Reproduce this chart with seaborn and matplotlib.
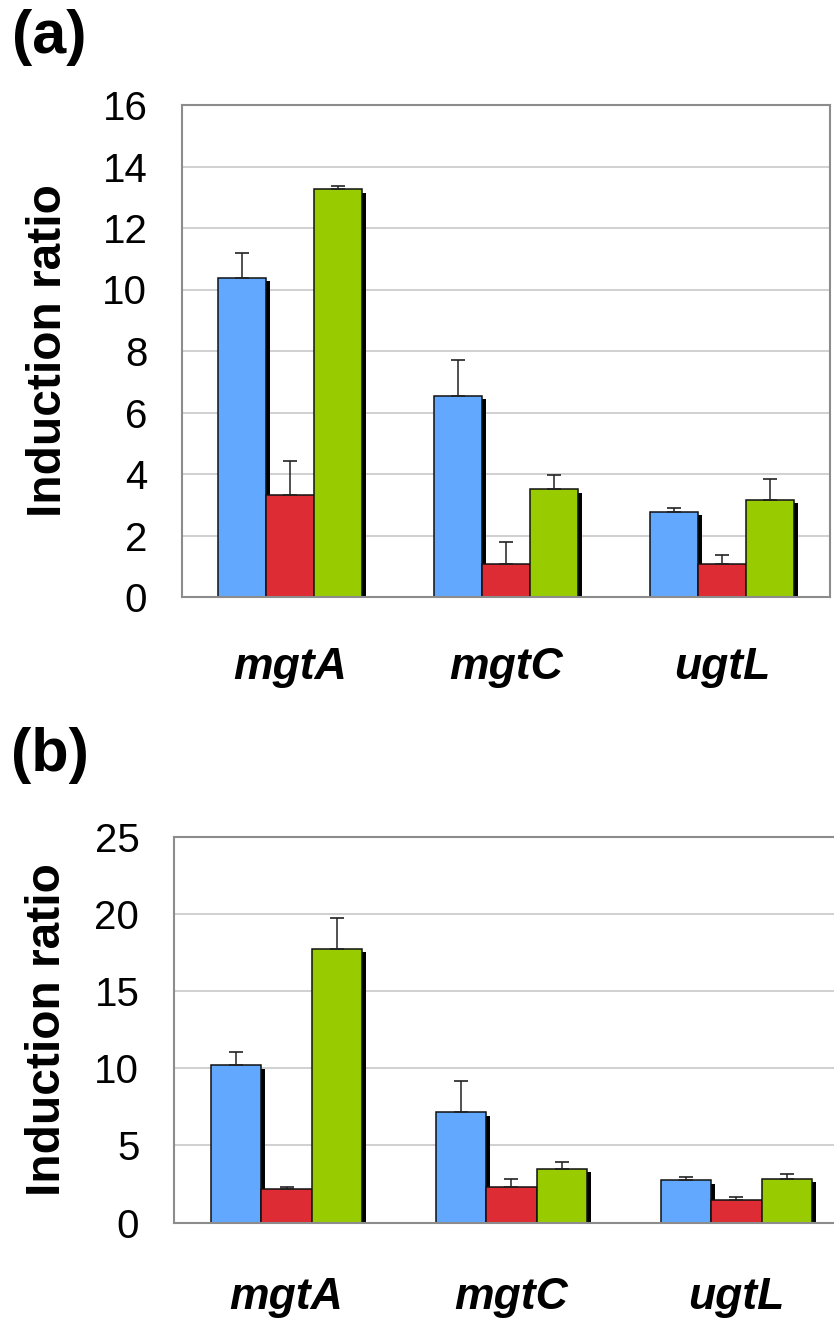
import numpy as np
import pandas as pd
import matplotlib
matplotlib.use("Agg")
import matplotlib.pyplot as plt
import matplotlib.patheffects as pe
import seaborn as sns

# genes on the x axis, three conditions per gene
genes = ["mgtA", "mgtC", "ugtL"]
conditions = ["cond1", "cond2", "cond3"]
bar_colors = ["#62a8ff", "#dd2c33", "#99cc00"]

# panel (a) induction ratios + upper error
a_mean_1 = [10.38, 6.55, 2.77]
a_err_1 = [0.82, 1.15, 0.14]
a_mean_2 = [3.33, 1.07, 1.07]
a_err_2 = [1.08, 0.72, 0.31]
a_mean_3 = [13.26, 3.50, 3.17]
a_err_3 = [0.11, 0.47, 0.68]

# panel (b)
b_mean_1 = [10.19, 7.15, 2.74]
b_err_1 = [0.85, 2.05, 0.22]
b_mean_2 = [2.20, 2.29, 1.47]
b_err_2 = [0.11, 0.56, 0.19]
b_mean_3 = [17.75, 3.50, 2.85]
b_err_3 = [2.01, 0.45, 0.28]

a_ticks = [0, 2, 4, 6, 8, 10, 12, 14, 16]
b_ticks = [0, 5, 10, 15, 20, 25]


def make_df(m1, m2, m3, e1, e2, e3):
    rows = []
    for cond, means, errs in zip(conditions, [m1, m2, m3], [e1, e2, e3]):
        for g, m, e in zip(genes, means, errs):
            rows.append({"gene": g, "cond": cond, "ratio": m, "err": e})
    return pd.DataFrame(rows)


sns.set_style("white")
plt.rcParams["font.family"] = ["Liberation Sans", "DejaVu Sans"]
plt.rcParams["text.color"] = "black"
plt.rcParams["axes.labelcolor"] = "black"
plt.rcParams["xtick.color"] = "black"
plt.rcParams["ytick.color"] = "black"

fig = plt.figure(figsize=(8.34, 13.21), dpi=100)
ax_a = fig.add_axes([182 / 834, 1 - 597 / 1321, 648 / 834, 492 / 1321])
ax_b = fig.add_axes([174 / 834, 1 - 1222.5 / 1321, 675 / 834, 385.5 / 1321])

grey = "#8c8c8c"


def draw_panel(ax, df, ticks, label_pad, ylab_x):
    sns.barplot(data=df, x="gene", y="ratio", hue="cond", order=genes,
                hue_order=conditions, palette=bar_colors, saturation=1,
                width=0.67, errorbar=None, edgecolor="#111111", linewidth=1.1,
                legend=False, ax=ax)
    shadow = [pe.SimplePatchShadow(offset=(2.8, -2.4), shadow_rgbFace="black", alpha=1.0), pe.Normal()]
    for bar in ax.patches:
        bar.set_path_effects(shadow)
    # error bars (upper only)
    for cond, cont in zip(conditions, ax.containers):
        sub = df[df["cond"] == cond].set_index("gene").loc[genes]
        xs = [b.get_x() + b.get_width() / 2 for b in cont]
        hs = [b.get_height() for b in cont]
        ax.errorbar(xs, hs, yerr=[np.zeros(len(xs)), sub["err"].values], fmt="none",
                    ecolor="#222222", elinewidth=1.1, capsize=4.7, capthick=1.2, zorder=5)

    ax.set_xlim(-0.5, 2.5)
    ax.set_ylim(ticks[0], ticks[-1])
    ax.set_yticks(ticks)
    ax.set_xticks([0, 1, 2])
    ax.set_xticklabels(genes, fontsize=32, fontweight="bold", fontstyle="italic")
    ax.set_xticks([-0.5, 0.5, 1.5, 2.5], minor=True)
    ax.tick_params(axis="x", which="major", length=0, pad=label_pad)
    ax.tick_params(axis="x", which="minor", length=11, width=1, color="#b0b0b0")
    ax.tick_params(axis="y", which="major", length=11, width=1, color=grey,
                   pad=14, labelsize=29)
    ax.set_axisbelow(True)
    ax.yaxis.grid(True, color="#c8c8c8", linewidth=1.2)
    for side in ["left", "bottom", "top", "right"]:
        ax.spines[side].set_visible(True)
        ax.spines[side].set_color(grey)
        ax.spines[side].set_linewidth(1.5)
    ax.set_xlabel("")
    ax.set_ylabel("Induction ratio", fontsize=34.5, fontweight="bold", va="center")
    ax.yaxis.set_label_coords(ylab_x, 0.5)


draw_panel(ax_a, make_df(a_mean_1, a_mean_2, a_mean_3, a_err_1, a_err_2, a_err_3),
           a_ticks, 36, (49 - 182) / 648)
draw_panel(ax_b, make_df(b_mean_1, b_mean_2, b_mean_3, b_err_1, b_err_2, b_err_3),
           b_ticks, 39, (47 - 174) / 675)

fig.text(49 / 834, 1 - 37 / 1321, "(a)", fontsize=44, fontweight="bold", ha="center", va="center")
fig.text(50 / 834, 1 - 755 / 1321, "(b)", fontsize=44, fontweight="bold", ha="center", va="center")

fig.savefig("out.png", dpi=100, facecolor="white")
